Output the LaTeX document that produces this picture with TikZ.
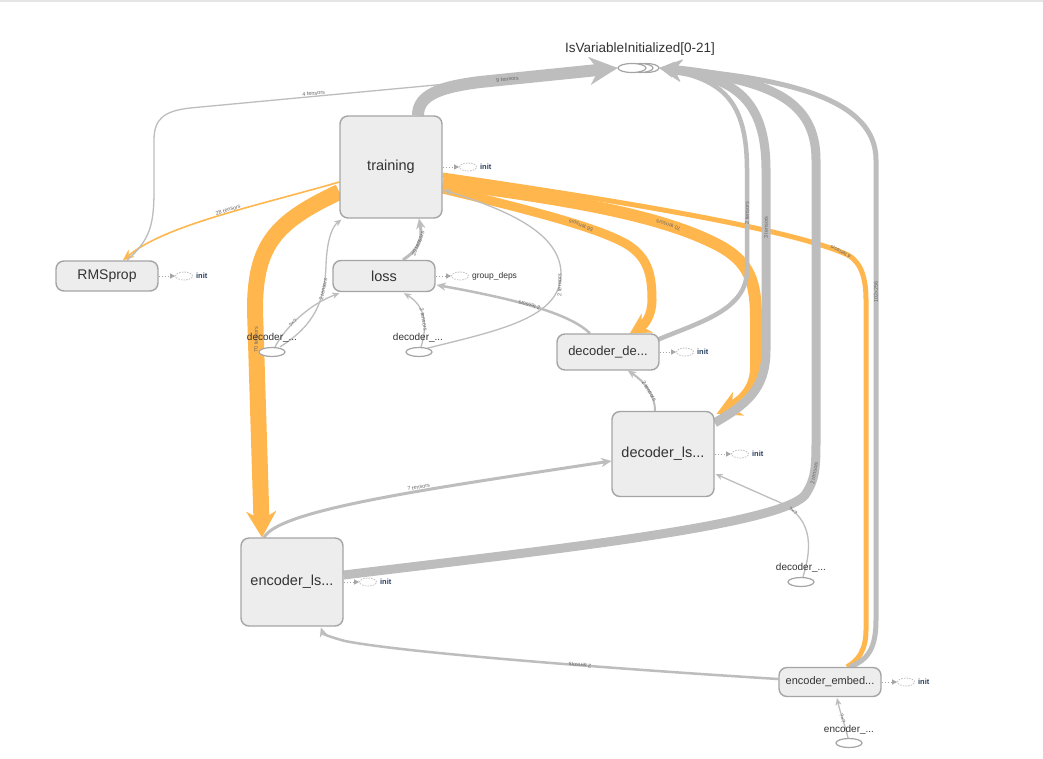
\documentclass[tikz,border=0pt]{standalone}
\usepackage{fontspec}
\setmainfont{Liberation Sans}
\usetikzlibrary{arrows.meta,calc,shapes.geometric}

\definecolor{nodefill}{RGB}{237,237,237}
\definecolor{nodeline}{RGB}{165,165,165}
\definecolor{edgegray}{RGB}{189,189,189}
\definecolor{edgeorange}{RGB}{255,183,77}
\definecolor{txt}{RGB}{51,51,51}
\definecolor{lbl}{RGB}{105,105,105}
\definecolor{initc}{RGB}{40,62,95}

\pgfdeclarelayer{paper}
\pgfdeclarelayer{orangelayer}
\pgfdeclarelayer{graylayer}
\pgfsetlayers{paper,orangelayer,graylayer,main}

\tikzset{
  op/.style={draw=nodeline, fill=nodefill, line width=1.4pt, rounded corners=8pt,
    text=txt, inner sep=0pt, minimum width=102pt, font=\fontsize{14.5}{17}\selectfont},
  ge/.style={draw=edgegray, line width=#1},
  oe/.style={draw=edgeorange, line width=#1},
  tipx/.style 2 args={-{Stealth[length=#1,width=#2,line width=0.1pt]}},
  elab/.style={font=\fontsize{5.5}{6}\selectfont, text=lbl, inner sep=0.6pt},
  constell/.style={ellipse, draw=nodeline, fill=white, line width=1.2pt,
    minimum width=26pt, minimum height=9pt, inner sep=0pt},
  constlab/.style={font=\fontsize{10}{12}\selectfont, text=txt, inner sep=0pt},
  initell/.style={ellipse, draw=black!25, dash pattern=on 1.5pt off 1.2pt, line width=0.8pt,
    minimum width=17pt, minimum height=8pt, inner sep=0pt},
  initlink/.style={draw=black!35, line width=0.9pt, dash pattern=on 1.5pt off 1.5pt,
    -{Triangle[length=5pt,width=5pt]}},
  initlab/.style={font=\bfseries\fontsize{7.5}{8}\selectfont, text=initc, inner sep=0pt, anchor=west},
}

\begin{document}
\begin{tikzpicture}[x=1pt,y=-1pt]
\begin{pgfonlayer}{paper}
  \fill[white] (0,0) rectangle (1043,758);
  \fill[black!10] (0,0) rectangle (1043,2);
\end{pgfonlayer}
\useasboundingbox (0,0) rectangle (1043,758);

% ---------- operation nodes ----------
\node[op, minimum height=102pt] (train) at (391,167) {training};
\node[op, minimum height=30pt, font=\fontsize{14}{16}\selectfont] (rms) at (107,276) {RMSprop};
\node[op, minimum height=31pt] (loss) at (384,276) {loss};
\node[op, minimum height=36pt, font=\fontsize{13}{15}\selectfont] (dde) at (608,352) {decoder\_de...};
\node[op, minimum height=85pt] (dls) at (663,454) {decoder\_ls...};
\node[op, minimum height=88pt] (enc) at (292,582) {encoder\_ls...};
\node[op, minimum height=29pt, font=\fontsize{11}{13}\selectfont] (emb) at (830,682) {encoder\_embed...};

% ---------- IsVariableInitialized stack ----------
\node[constell, minimum width=26pt] (isv3) at (646,68) {};
\node[constell, minimum width=26pt] (isv2) at (640,68) {};
\node[constell, minimum width=28pt] (isv) at (632,68) {};
\node[font=\fontsize{13.5}{16}\selectfont, text=txt, inner sep=0pt] (isvlab) at (640,49) {IsVariableInitialized[0-21]};

% ---------- constants ----------
\node[constell] (dl) at (272,352) {};
\node[constlab] (dllab) at (272,338) {decoder\_...};
\node[constell] (dm) at (419,352) {};
\node[constlab] (dmlab) at (418,338) {decoder\_...};
\node[constell] (dbr) at (801,582) {};
\node[constlab] (dbrlab) at (801,568) {decoder\_...};
\node[constell] (eb) at (849,743) {};
\node[constlab] (eblab) at (849,730) {encoder\_...};

% ---------- init / group_deps attachments ----------
\node[initell] (traininit) at (468,167) {};
\node[initlab] (traininitlab) at ($(traininit.east)+(3,0)$) {init};
\draw[initlink] (train.east) -- (traininit.west);

\node[initell] (rmsinit) at (184,276) {};
\node[initlab] (rmsinitlab) at ($(rmsinit.east)+(3,0)$) {init};
\draw[initlink] (rms.east) -- (rmsinit.west);

\node[initell] (lossdeps) at (460,276) {};
\node[font=\fontsize{8.5}{10}\selectfont, text=txt, inner sep=0pt, anchor=west] (lossdepslab) at ($(lossdeps.east)+(3,0)$) {group\_deps};
\draw[initlink] (loss.east) -- (lossdeps.west);

\node[initell] (ddeinit) at (685,352) {};
\node[initlab] (ddeinitlab) at ($(ddeinit.east)+(3,0)$) {init};
\draw[initlink] (dde.east) -- (ddeinit.west);

\node[initell] (dlsinit) at (740,454) {};
\node[initlab] (dlsinitlab) at ($(dlsinit.east)+(3,0)$) {init};
\draw[initlink] (dls.east) -- (dlsinit.west);

\node[initell] (encinit) at (368,582) {};
\node[initlab] (encinitlab) at ($(encinit.east)+(3,0)$) {init};
\draw[initlink] (enc.east) -- (encinit.west);

\node[initell] (embinit) at (906,682) {};
\node[initlab] (embinitlab) at ($(embinit.east)+(3,0)$) {init};
\draw[initlink] (emb.east) -- (embinit.west);

% ---------- reference (orange) edges ----------
\begin{pgfonlayer}{orangelayer}
\draw[oe=1.6, tipx={11pt}{9pt}] ($(train.west)+(0,15)$) .. controls (260,205) and (165,225) ..
  node[elab, sloped, above, pos=0.45] {28 tensors} ($(rms.north)+(16,0)$);

\draw[oe=16, tipx={26pt}{30pt}] ($(train.west)+(0,25)$) .. controls (275,222) and (255,245) .. (255,310)
  -- node[elab, pos=0.13, rotate=90] {70 tensors} ($(enc.north)+(-30,0)$);

\draw[oe=9, tipx={20pt}{22pt}] ($(train.east)+(0,22)$) .. controls (530,210) and (600,228) ..
  node[elab, pos=0.63, rotate=159] {56 tensors} (628,245)
  .. controls (648,258) and (652,275) .. (652,300)
  .. controls (652,316) and (644,325) .. ($(dde.north)+(22,0)$);

\draw[oe=12, tipx={24pt}{26pt}] ($(train.east)+(0,16)$) .. controls (570,200) and (660,215) ..
  node[elab, pos=0.75, rotate=162] {70 tensors} (718,245)
  .. controls (750,262) and (756,282) .. (756,320) -- (756,368)
  .. controls (756,392) and (738,404) .. ($(dls.north east)+(2,3)$);

\draw[oe=5] ($(train.east)+(0,8)$) .. controls (600,198) and (790,228) ..
  node[elab, pos=0.96, rotate=152] {4 tensors} (848,255)
  .. controls (862,263) and (866,280) .. (866,300) -- (866,630)
  .. controls (866,650) and (858,661) .. ($(emb.north)+(17,0)$);
\end{pgfonlayer}

% ---------- data (gray) edges ----------
\begin{pgfonlayer}{graylayer}
% into IsVariableInitialized
\draw[ge=1.3, tipx={6pt}{5pt}] ($(rms.north)+(20,0)$) .. controls (150,240) and (154,225) .. (154,190)
  -- (154,140) .. controls (154,118) and (165,111) .. (190,108)
  -- node[elab, sloped, above, pos=0.29] {4 tensors} (isv.west);

\draw[ge=12, tipx={28pt}{28pt}] ($(train.north)+(27,0)$) .. controls (418,95) and (440,87) .. (480,82)
  -- node[elab, sloped, pos=0.2] {9 tensors} (isv.west);

\draw[ge=4.5, tipx={14pt}{14pt}] ($(dde.north east)+(-1,6)$) .. controls (700,322) and (747,310) .. (747,270)
  -- node[elab, pos=0.57, rotate=90] {2 tensors} (747,170)
  .. controls (747,100) and (722,80) .. (isv3.east);

\draw[ge=9, tipx={22pt}{22pt}] ($(dls.north east)+(0,12)$) .. controls (745,405) and (766,390) .. (766,350)
  -- node[elab, pos=0.68, rotate=90] {3 tensors} (766,170)
  .. controls (766,100) and (735,78) .. (isv3.east);

\draw[ge=9, tipx={22pt}{22pt}] ($(enc.east)+(0,-7)$) .. controls (550,550) and (780,525) .. (805,495)
  .. controls (815,480) and (816,470) .. node[elab, sloped, pos=0.5] {2 tensors} (816,440)
  -- (816,160) .. controls (816,100) and (770,80) .. (isv3.east);

\draw[ge=5, tipx={15pt}{15pt}] ($(emb.north)+(20,0)$) .. controls (868,660) and (876,648) .. (876,620)
  -- node[elab, pos=0.713, rotate=90] {102x256} (876,160)
  .. controls (876,100) and (790,78) .. (isv3.east);

% between operations
\draw[ge=2, tipx={8pt}{7pt}] ($(dls.north)+(-8,0)$) .. controls (655,395) and (645,382) ..
  node[elab, sloped, pos=0.45] {2 tensors} ($(dde.south)+(20,0)$);

\draw[ge=3, tipx={10pt}{9pt}] ($(enc.north)+(-28,0)$) .. controls (280,510) and (420,490) ..
  node[elab, sloped, above, pos=0.62] {7 tensors} ($(dls.west)+(0,7)$);

\draw[ge=2.5, tipx={9pt}{8pt}] ($(dde.north)+(-18,0)$) .. controls (570,314) and (520,300) ..
  node[elab, sloped, allow upside down, pos=0.55] {2 tensors} ($(loss.east)+(1,9)$);

\draw[ge=3, tipx={10pt}{9pt}] ($(loss.north)+(19,0)$) .. controls (418,250) and (423,240) ..
  node[elab, sloped, pos=0.5] {20 tensors} ($(train.south)+(28,0)$);

\draw[ge=2.5, tipx={9pt}{8pt}] ($(emb.west)+(0,-3)$) .. controls (600,668) and (400,652) ..
  node[elab, sloped, allow upside down, pos=0.37] {2 tensors} (345,641)
  .. controls (330,637) and (323,634) .. ($(enc.south)+(29,1)$);

% from constants
\draw[ge=1.3, tipx={7pt}{6pt}] ($(dl.north)+(8,0)$) .. controls (315,325) and (325,300) ..
  node[elab, sloped, pos=0.75] {2 tensors} (326,265)
  .. controls (327,238) and (333,226) .. ($(train.south west)+(2,1)$);

\draw[ge=1.3, tipx={7pt}{6pt}] ($(dl.north)+(3,0)$) .. controls (285,328) and (308,305) ..
  node[elab, sloped, pos=0.4] {?×?} ($(loss.south west)+(7,1)$);

\draw[ge=1.3, tipx={7pt}{6pt}] ($(dm.north)+(2,0)$) .. controls (428,325) and (425,306) ..
  node[elab, sloped, pos=0.45] {2 tensors} ($(loss.south)+(20,1)$);

\draw[ge=1.3, tipx={7pt}{6pt}] ($(dm.north east)+(-2,0)$) .. controls (500,330) and (562,318) ..
  node[elab, pos=0.9, rotate=90] {2 tensors} (561,272)
  .. controls (559,230) and (500,208) .. ($(train.east)+(1,23)$);

\draw[ge=1.3, tipx={7pt}{6pt}] ($(dbr.north)+(2,0)$) .. controls (816,535) and (806,512) ..
  node[elab, sloped, pos=0.75] {?×?} (772,499) -- ($(dls.east)+(1,20)$);

\draw[ge=1.3, tipx={7pt}{6pt}] ($(eb.north)+(-1,0)$) .. controls (845,725) and (840,712) ..
  node[elab, sloped, pos=0.5] {?×?} ($(emb.south)+(7,1)$);
\end{pgfonlayer}
\end{tikzpicture}
\end{document}
